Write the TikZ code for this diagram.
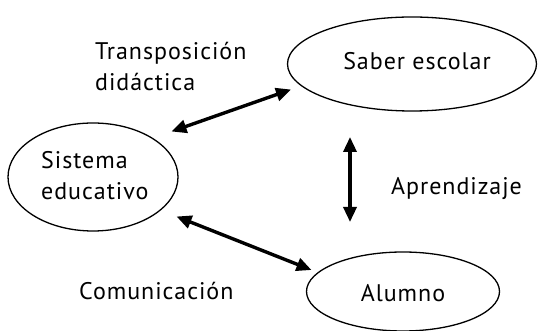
\documentclass[tikz,border=0pt]{standalone}
\usepackage{fontspec}
\setmainfont{PT Sans}[LetterSpace=4]
\usetikzlibrary{shapes.geometric,arrows.meta}
\begin{document}
\begin{tikzpicture}[x=1pt,y=1pt,
  every node/.style={font=\fontsize{24}{31}\selectfont, inner sep=0pt},
  oval/.style={draw, ellipse, line width=1.3pt},
  lbl/.style={align=left},
  link/.style={line width=3.4pt, {Triangle[length=15pt,width=13pt]}-{Triangle[length=15pt,width=13pt]}}]
\useasboundingbox (0,0) rectangle (538,331);
\node[oval, minimum width=249, minimum height=94] (saber) at (412,267) {};
\node at (417,270) (sabertxt) {Saber escolar};
\node[oval, minimum width=170, minimum height=108] (sistema) at (93,154) {};
\node[lbl, anchor=west] (sistematxt) at (41,155) {Sistema\\educativo};
\node[oval, minimum width=193, minimum height=79] (alumno) at (403,39.5) {};
\node (alumnotxt) at (403,38) {Alumno};
\node[lbl, anchor=west] (transtxt) at (95,264) {Transposición\\didáctica};
\node[anchor=west] (aprtxt) at (391,142) {Aprendizaje};
\node[anchor=west] (comtxt) at (79,40) {Comunicación};
\coordinate (a1) at (171.5,199.5);
\coordinate (b1) at (291,241.5);
\coordinate (a2) at (350,194);
\coordinate (b2) at (350,109);
\coordinate (a3) at (176.5,114.5);
\coordinate (b3) at (311.5,61);
\draw[link] (a1) -- (b1);
\draw[link] (a2) -- (b2);
\draw[link] (a3) -- (b3);
\end{tikzpicture}
\end{document}
